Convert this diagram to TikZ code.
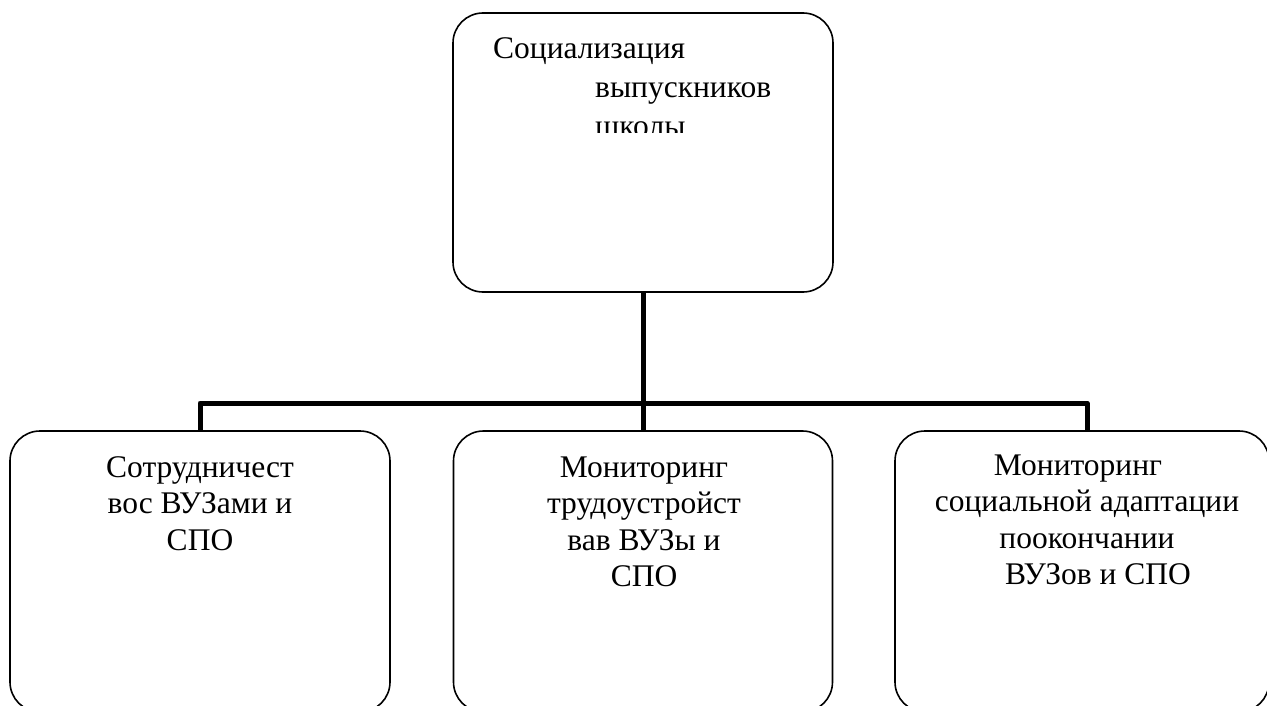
\documentclass[tikz,border=0pt]{standalone}
\usepackage{fontspec}
\setmainfont{Liberation Serif}
\begin{document}
\begin{tikzpicture}[x=1pt,y=-1pt,
  box/.style={draw=black,line width=1.6pt,rectangle,rounded corners=30pt,inner sep=0pt},
  conn/.style={draw=black,line width=5pt,line join=round},
  txt/.style={inner sep=0pt,align=center,anchor=base,font={\fontsize{31.5}{36.5}\selectfont}}]
\useasboundingbox (0,0) rectangle (1267,706);
\clip (0,0) rectangle (1267,706);
\fill[white] (0,0) rectangle (1267,706);
% boxes
\node[box,minimum width=380pt,minimum height=279pt] (top) at (643,152.5) {};
\node[box,minimum width=380pt,minimum height=281pt] (left) at (200,571.5) {};
\node[box,minimum width=379pt,minimum height=281pt] (mid) at (643,571.5) {};
\node[box,minimum width=374pt,minimum height=281pt] (right) at (1082,571.5) {};
% connectors
\coordinate (jl) at (200,403);
\coordinate (jr) at (1087,403);
\draw[conn] (top.south) -- (mid.north);
\draw[conn] (jl |- left.north) -- (jl) -- (jr) -- (jr |- right.north);
% texts (base anchor = baseline of last line)
\begin{scope}
\clip (453,13) rectangle (833,133);
\node[inner sep=0pt,anchor=base west,align=left,font={\fontsize{31.5}{39}\selectfont}] (t0) at (493,137)
  {Социализация\\\hspace*{102pt}выпускников\\\hspace*{102pt}школы};
\end{scope}
\node[txt] (t1) at (200,550) {Сотрудничест\\вос ВУЗами и\\СПО};
\node[txt] (t2) at (644,586.5) {Мониторинг\\трудоустройст\\вав ВУЗы и\\СПО};
\node[txt] (t3) at (1087,584.5) {Мониторинг\hspace*{18pt}\\социальной адаптации\\поокончании\\\hspace*{22pt}ВУЗов и СПО};
\end{tikzpicture}
\end{document}
